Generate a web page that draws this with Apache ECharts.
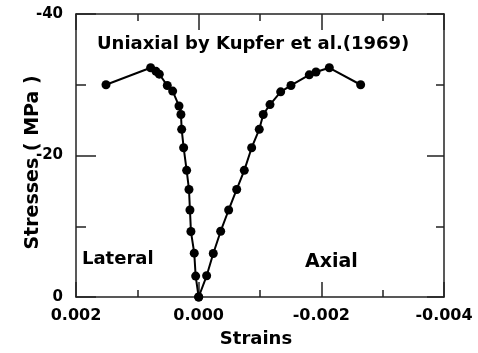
<!DOCTYPE html>
<html><head><meta charset="utf-8">
<script src="https://cdn.jsdelivr.net/npm/echarts@6/dist/echarts.min.js"></script>
<style>html,body{margin:0;padding:0;background:#fff}#c{width:478px;height:353px}</style>
</head><body><div id="c"></div>
<script>
// Lateral strain branch (strain, stress MPa)
var lateralStrain = [0.0, 0.000049, 0.000072, 0.000126, 0.000142, 0.000158, 0.000196, 0.000245, 0.000277, 0.000289, 0.000321, 0.000424, 0.000512, 0.000642, 0.000696, 0.000783, 0.001511];
var lateralStress = [0, -2.96, -6.2, -9.25, -12.3, -15.2, -17.9, -21.1, -23.7, -25.8, -27.0, -29.1, -29.9, -31.5, -31.9, -32.4, -30.0];
// Axial strain branch
var axialStrain = [0.0, -0.000130, -0.000238, -0.000359, -0.000489, -0.000620, -0.000744, -0.000864, -0.000988, -0.001053, -0.001163, -0.001337, -0.001505, -0.001803, -0.001913, -0.002130, -0.002641];
var axialStress = [0, -3.0, -6.15, -9.3, -12.3, -15.2, -17.9, -21.1, -23.7, -25.8, -27.2, -29.0, -29.9, -31.4, -31.8, -32.4, -30.0];
var xTickLabels = ['0.002', '0.000', '-0.002', '-0.004'];
var yTickLabels = ['-40', '-20', '0'];
var titleText = 'Uniaxial by Kupfer et al.(1969)';
var lateralText = 'Lateral';
var axialText = 'Axial';
var xName = 'Strains';
var yName = 'Stresses ( MPa )';

function zip(a, b) { return a.map(function (v, i) { return [v, b[i]]; }); }
var F = 'DejaVu Sans';
var chart = echarts.init(document.getElementById('c'), null, {renderer: 'canvas'});
var lineStyle = {color: '#222', width: 1.5};
function xFmt(v) {
  var s = (Math.abs(v) < 1e-12 ? 0 : v).toFixed(3);
  return xTickLabels.indexOf(s) >= 0 ? s : '';
}
function yFmt(v) {
  var s = String(Math.round(v));
  return yTickLabels.indexOf(s) >= 0 ? s : '';
}
chart.setOption({
  animation: false,
  backgroundColor: '#fff',
  grid: {left: 76, right: 34, top: 14, bottom: 55},
  xAxis: [{
    type: 'value', min: -0.004, max: 0.002, interval: 0.002, inverse: true, position: 'bottom',
    axisLine: {show: true, onZero: false, lineStyle: lineStyle},
    axisTick: {show: true, inside: true, length: 15, lineStyle: lineStyle},
    minorTick: {show: true, splitNumber: 2, length: 7, lineStyle: lineStyle},
    splitLine: {show: false},
    axisLabel: {formatter: xFmt, fontFamily: F, fontWeight: 'bold', fontSize: 16, color: '#000', margin: 11},
    name: xName, nameLocation: 'middle', nameGap: 33, nameMoveOverlap: false,
    nameTextStyle: {fontFamily: F, fontWeight: 'bold', fontSize: 18, color: '#000', padding: [0, 8, 0, 0]}
  }, {
    type: 'value', min: -0.004, max: 0.002, interval: 0.002, inverse: true, position: 'top',
    axisLine: {show: true, onZero: false, lineStyle: lineStyle},
    axisTick: {show: true, inside: true, length: 16, lineStyle: lineStyle},
    minorTick: {show: true, splitNumber: 2, length: 7, lineStyle: lineStyle},
    splitLine: {show: false}, axisLabel: {show: false}
  }],
  yAxis: [{
    type: 'value', min: -40, max: 0, interval: 20, inverse: true, position: 'left',
    axisLine: {show: true, onZero: false, lineStyle: lineStyle},
    axisTick: {show: true, inside: true, length: 20, lineStyle: lineStyle},
    minorTick: {show: true, splitNumber: 2, length: 10, lineStyle: lineStyle},
    splitLine: {show: false},
    axisLabel: {formatter: yFmt, fontFamily: F, fontWeight: 'bold', fontSize: 15, color: '#000', margin: 13},
    name: yName, nameLocation: 'middle', nameGap: 33, nameRotate: 90, nameMoveOverlap: false,
    nameTextStyle: {fontFamily: F, fontWeight: 'bold', fontSize: 19, color: '#000', padding: [0, 14, 0, 0]}
  }, {
    type: 'value', min: -40, max: 0, interval: 20, inverse: true, position: 'right',
    axisLine: {show: true, onZero: false, lineStyle: lineStyle},
    axisTick: {show: true, inside: true, length: 17, lineStyle: lineStyle},
    minorTick: {show: true, splitNumber: 2, length: 8, lineStyle: lineStyle},
    splitLine: {show: false}, axisLabel: {show: false}
  }],
  series: [{
    type: 'line', name: lateralText, data: zip(lateralStrain, lateralStress),
    symbol: 'circle', symbolSize: 9, itemStyle: {color: '#000'},
    lineStyle: {color: '#000', width: 2}
  }, {
    type: 'line', name: axialText, data: zip(axialStrain, axialStress),
    symbol: 'circle', symbolSize: 9, itemStyle: {color: '#000'},
    lineStyle: {color: '#000', width: 2}
  }],
  graphic: [
    {type: 'text', left: 97, top: 35, style: {text: titleText, font: 'bold 18px "DejaVu Sans"', fill: '#000'}},
    {type: 'text', left: 82, top: 250, style: {text: lateralText, font: 'bold 18px "DejaVu Sans"', fill: '#000'}},
    {type: 'text', left: 305, top: 253, style: {text: axialText, font: 'bold 19px "DejaVu Sans"', fill: '#000'}}
  ]
});
</script></body></html>
